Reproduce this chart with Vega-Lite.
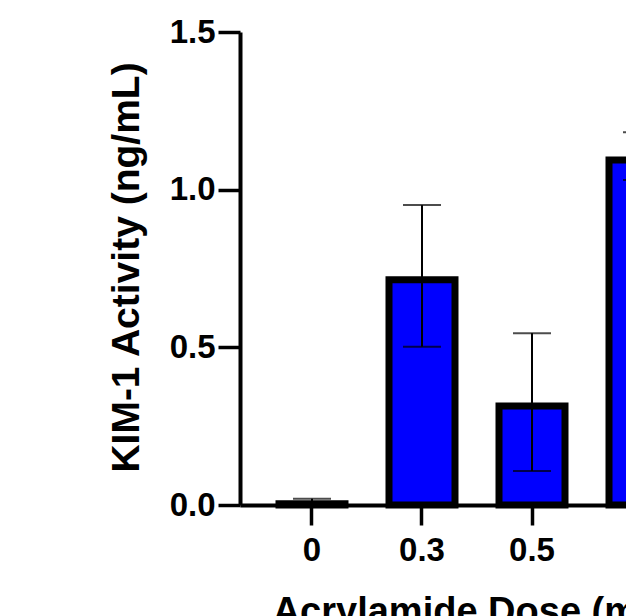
{
  "$schema": "https://vega.github.io/schema/vega-lite/v6.json",
  "autosize": {"type": "none"},
  "padding": {"left": 240, "top": 32, "right": 10, "bottom": 120},
  "width": 474,
  "height": 473,
  "config": {"view": {"stroke": null}, "font": "Liberation Sans"},
  "data": {"values": [
    {"dose": "0", "mean": 0.004, "lo": 0.0, "hi": 0.02},
    {"dose": "0.3", "mean": 0.714, "lo": 0.502, "hi": 0.951},
    {"dose": "0.5", "mean": 0.314, "lo": 0.108, "hi": 0.545},
    {"dose": "1", "mean": 1.094, "lo": 1.031, "hi": 1.182}
  ]},
  "encoding": {
    "x": {
      "field": "dose", "type": "ordinal", "sort": null,
      "scale": {"paddingInner": 0.4, "paddingOuter": 0.3545},
      "axis": {
        "title": "Acrylamide Dose (mM)", "titleFontSize": 38, "titleFontWeight": "bold", "titleColor": "black",
        "titleBaseline": "alphabetic", "titleY": 118.6,
        "labelFontSize": 33, "labelFontWeight": "bold", "labelColor": "black", "labelAngle": 0, "labelPadding": 9,
        "tickSize": 20, "tickWidth": 3.5, "tickColor": "black",
        "domainColor": "black", "domainWidth": 4, "grid": false
      }
    }
  },
  "layer": [
    {
      "mark": {"type": "bar", "size": 66, "fill": "#0000FF", "stroke": "black", "strokeWidth": 7},
      "encoding": {
        "y": {
          "field": "mean", "type": "quantitative", "title": "KIM-1 Activity (ng/mL)",
          "scale": {"domain": [0, 1.5], "nice": false, "zero": true},
          "axis": {
            "values": [0, 0.5, 1, 1.5], "format": ".1f",
            "titleFontSize": 39, "titleFontWeight": "bold", "titleColor": "black",
            "titleAngle": 270, "titleBaseline": "alphabetic", "titleAlign": "center", "titleX": -102, "titleY": 235,
            "labelFontSize": 33, "labelFontWeight": "bold", "labelColor": "black", "labelPadding": 3,
            "tickSize": 22, "tickWidth": 3.5, "tickColor": "black",
            "domainColor": "black", "domainWidth": 4, "grid": false
          }
        }
      }
    },
    {
      "mark": {"type": "rule", "color": "black", "strokeWidth": 2},
      "encoding": {
        "y": {"field": "lo", "type": "quantitative", "title": "KIM-1 Activity (ng/mL)"},
        "y2": {"field": "hi"}
      }
    },
    {
      "mark": {"type": "tick", "color": "black", "size": 38, "thickness": 2},
      "encoding": {"y": {"field": "hi", "type": "quantitative", "title": "KIM-1 Activity (ng/mL)"}}
    },
    {
      "mark": {"type": "tick", "color": "black", "size": 38, "thickness": 2},
      "encoding": {"y": {"field": "lo", "type": "quantitative", "title": "KIM-1 Activity (ng/mL)"}}
    }
  ]
}
